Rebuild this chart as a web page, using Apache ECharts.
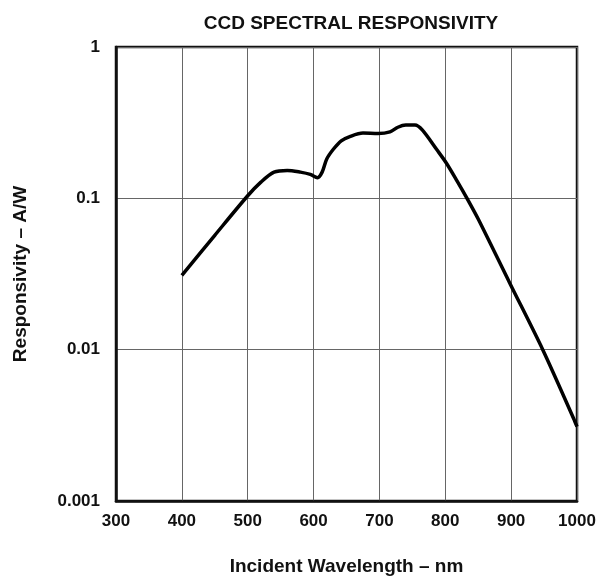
<!DOCTYPE html>
<html>
<head>
<meta charset="utf-8">
<script src="https://cdn.jsdelivr.net/npm/echarts@6/dist/echarts.min.js"></script>
<style>
html,body{margin:0;padding:0;background:#fff;}
#chart{width:599px;height:581px;}
</style>
</head>
<body>
<div id="chart"></div>
<script>
// Data
var wavelengths = [400, 450, 500, 520, 540, 560, 580, 595, 606, 613, 620, 630, 642, 655, 675, 698, 716, 728, 740, 754, 765, 787, 802, 818, 833, 850, 898, 948, 995, 1000];
var responsivity = [0.031, 0.057, 0.104, 0.128, 0.149, 0.153, 0.149, 0.144, 0.137, 0.149, 0.182, 0.211, 0.24, 0.256, 0.27, 0.268, 0.275, 0.295, 0.305, 0.305, 0.283, 0.21, 0.17, 0.13, 0.1, 0.073, 0.0275, 0.01, 0.0035, 0.0031];
var yTickValues = [0.001, 0.01, 0.1, 1];
var yTickLabels = ['0.001', '0.01', '0.1', '1'];
var xTickLabels = ['300', '400', '500', '600', '700', '800', '900', '1000'];

var FONT = '"Liberation Sans", Arial, Helvetica, sans-serif';
var chart = echarts.init(document.getElementById('chart'), null, {renderer: 'canvas'});

function yLabel(v) {
  var best = 0, bd = Infinity;
  for (var i = 0; i < yTickValues.length; i++) {
    var d = Math.abs(Math.log10(v) - Math.log10(yTickValues[i]));
    if (d < bd) { bd = d; best = i; }
  }
  return bd < 0.01 ? yTickLabels[best] : '';
}

chart.setOption({
  animation: false,
  backgroundColor: '#fff',
  title: {
    text: 'CCD SPECTRAL RESPONSIVITY',
    left: 346,
    top: 9,
    textAlign: 'center',
    textStyle: {fontFamily: FONT, fontWeight: 'bold', fontSize: 19, color: '#111'}
  },
  grid: {
    left: 116, right: 22, top: 47, bottom: 78,
    show: true, borderColor: '#111', borderWidth: 2.5, backgroundColor: 'transparent'
  },
  xAxis: {
    type: 'value', min: 300, max: 1000, interval: 100,
    name: 'Incident Wavelength – nm',
    nameLocation: 'middle', nameGap: 56,
    nameTextStyle: {fontFamily: FONT, fontWeight: 'bold', fontSize: 19, color: '#111'},
    axisLine: {show: true, onZero: false, lineStyle: {color: '#111', width: 2.5}},
    axisTick: {show: false},
    axisLabel: {
      margin: 12, fontFamily: FONT, fontWeight: 'bold', fontSize: 17, color: '#111',
      formatter: function (v) { var i = Math.round((v - 300) / 100); return xTickLabels[i] || ''; }
    },
    splitLine: {show: true, lineStyle: {color: '#666', width: 1}}
  },
  yAxis: {
    type: 'log', logBase: 10, min: 0.001, max: 1,
    name: 'Responsivity – A/W',
    nameLocation: 'middle', nameGap: 86, nameRotate: 90,
    nameTextStyle: {fontFamily: FONT, fontWeight: 'bold', fontSize: 19, color: '#111'},
    axisLine: {show: true, lineStyle: {color: '#111', width: 2.5}},
    axisTick: {show: false},
    axisLabel: {
      margin: 16, fontFamily: FONT, fontWeight: 'bold', fontSize: 17, color: '#111',
      formatter: yLabel
    },
    splitLine: {show: true, lineStyle: {color: '#666', width: 1}},
    minorTick: {show: false}, minorSplitLine: {show: false}
  },
  series: [{
    type: 'line',
    data: wavelengths.map(function (w, i) { return [w, responsivity[i]]; }),
    smooth: 0.3,
    symbol: 'none',
    lineStyle: {color: '#000', width: 3.5},
    clip: true
  }]
});
</script>
</body>
</html>
